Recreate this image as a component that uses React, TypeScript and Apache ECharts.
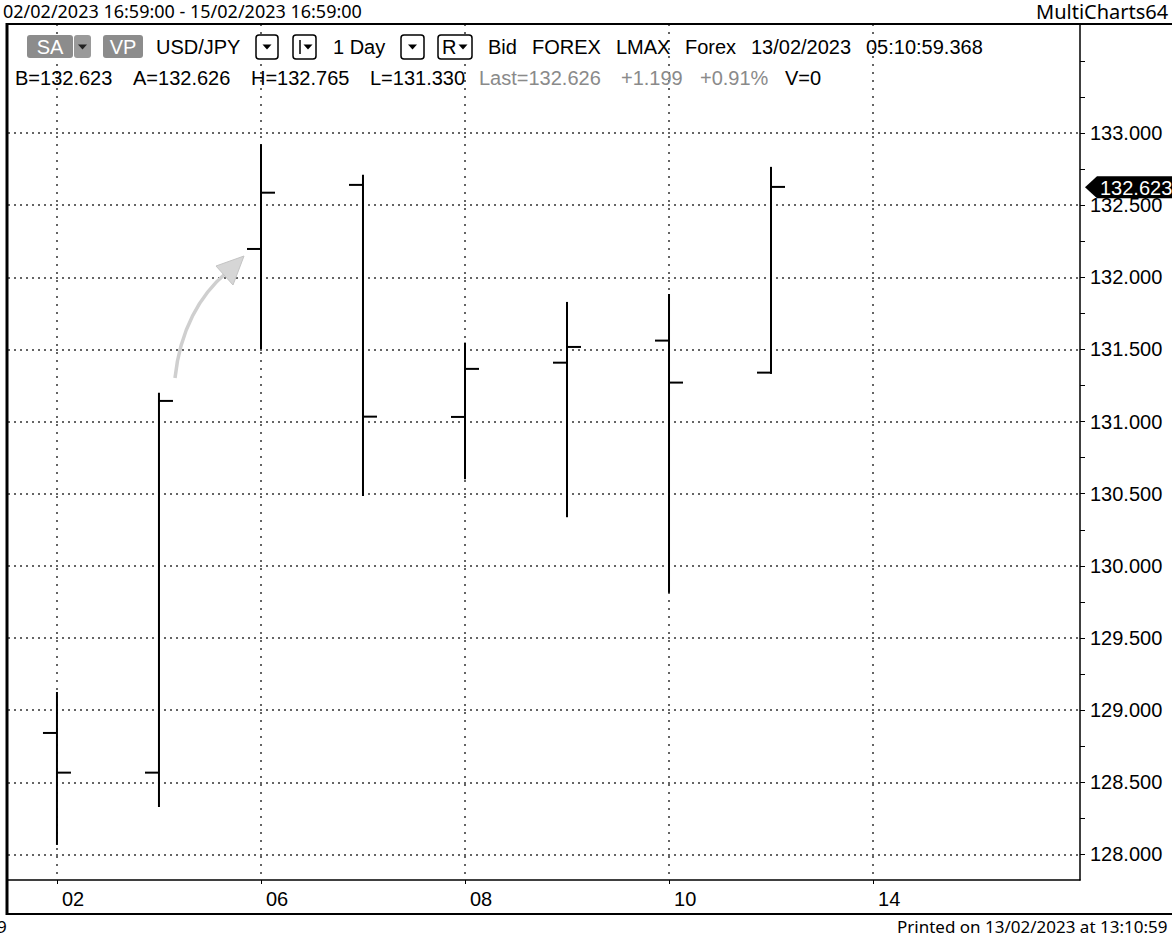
import React, { useEffect, useRef } from "react";
import * as echarts from "echarts";

// ---- data ----
const dayLabels = ["02", "03", "06", "07", "08", "09", "10", "13", "14", "15", "16"];
const opens = [128.842, 128.567, 132.196, 132.64, 131.032, 131.408, 131.561, 131.339];
const highs = [129.126, 131.2, 132.922, 132.711, 131.547, 131.829, 131.884, 132.765];
const lows = [128.066, 128.329, 131.501, 130.484, 130.6, 130.337, 129.814, 131.33];
const closes = [128.567, 131.143, 132.586, 131.034, 131.365, 131.517, 131.27, 132.626];
const xLabelIdx = [0, 2, 4, 6, 8];
const yLabelValues = [128, 128.5, 129, 129.5, 130, 130.5, 131, 131.5, 132, 132.5, 133];
const yTickValues = [
  128, 128.25, 128.5, 128.75, 129, 129.25, 129.5, 129.75, 130, 130.25, 130.5, 130.75,
  131, 131.25, 131.5, 131.75, 132, 132.25, 132.5, 132.75, 133, 133.25, 133.5, 133.75,
];
const lastBid = 132.623;

const ARIAL = '"Liberation Sans", Arial, sans-serif';
const TAHOMA = '"Noto Sans", sans-serif';

function txt(text: string, x: number, y: number, size = 20, fill = "#000", font = ARIAL, align = "left") {
  return {
    type: "text",
    x,
    y,
    z: 50,
    style: { text, fill, font: `${size}px ${font}`, verticalAlign: "middle", align },
    silent: true,
  };
}
function tri(cx: number, cy: number, fill = "#000", w = 9, h = 5) {
  return {
    type: "polygon",
    z: 51,
    shape: { points: [[cx - w / 2, cy - h / 2], [cx + w / 2, cy - h / 2], [cx, cy + h / 2]] },
    style: { fill },
    silent: true,
  };
}
function box(x: number, y: number, w: number, h: number, fill: string, stroke: string | null) {
  return {
    type: "rect",
    z: 49,
    shape: { x, y, width: w, height: h, r: 3 },
    style: stroke ? { fill, stroke, lineWidth: 1.5 } : { fill },
    silent: true,
  };
}
function hline(x1: number, x2: number, y: number, w: number) {
  return { type: "line", z: 60, shape: { x1, y1: y, x2, y2: y }, style: { stroke: "#000", lineWidth: w }, silent: true };
}
function vline(x: number, y1: number, y2: number, w: number) {
  return { type: "line", z: 60, shape: { x1: x, y1, x2: x, y2 }, style: { stroke: "#000", lineWidth: w }, silent: true };
}

export default function App() {
  const ref = useRef<HTMLDivElement>(null);
  useEffect(() => {
    if (!ref.current) return;
    const chart = echarts.init(ref.current, undefined, { renderer: "svg" });
    const data = opens.map((o, i) => [i, o, closes[i], lows[i], highs[i]]);
    const option: any = {
      animation: false,
      backgroundColor: "#fff",
      grid: { left: 8, top: 24, width: 1072, height: 856, containLabel: false },
      xAxis: {
        type: "value",
        min: -0.48,
        max: 10.029,
        axisLine: { show: true, lineStyle: { color: "#000", width: 1.5 } },
        axisTick: { show: true, length: 4, customValues: xLabelIdx, lineStyle: { color: "#000" } },
        axisLabel: {
          customValues: xLabelIdx,
          formatter: (v: number) => dayLabels[Math.round(v)] ?? "",
          align: "left",
          padding: [0, 0, 0, 5],
          margin: 9,
          color: "#000",
          fontFamily: ARIAL,
          fontSize: 20,
        },
        splitLine: { show: true, lineStyle: { color: "#333", width: 1.5, type: [2, 6] } },
      },
      yAxis: [
        {
          type: "value",
          position: "right",
          min: 127.823,
          max: 133.755,
          axisLine: { show: true, onZero: false, lineStyle: { color: "#000", width: 1.5 } },
          axisTick: { show: true, length: 5, customValues: yTickValues, lineStyle: { color: "#000", width: 1 } },
          axisLabel: {
            customValues: yLabelValues,
            formatter: (v: number) => v.toFixed(3),
            margin: 10,
            color: "#000",
            fontFamily: ARIAL,
            fontSize: 20,
          },
          splitLine: { show: false },
        },
        {
          type: "value",
          position: "right",
          min: 127.823,
          max: 133.755,
          axisLine: { show: false },
          axisTick: { show: false, customValues: yLabelValues },
          axisLabel: { show: false, customValues: yLabelValues },
          splitLine: { show: true, lineStyle: { color: "#333", width: 1.5, type: [2, 4] } },
        },
      ],
      series: [
        {
          type: "custom",
          yAxisIndex: 0,
          data,
          encode: { x: 0, y: [1, 2, 3, 4] },
          z: 10,
          renderItem: (_p: any, api: any) => {
            const x = api.value(0);
            const o = api.coord([x, api.value(1)]);
            const c = api.coord([x, api.value(2)]);
            const l = api.coord([x, api.value(3)]);
            const h = api.coord([x, api.value(4)]);
            const style = { stroke: "#000", lineWidth: 2 };
            return {
              type: "group",
              children: [
                { type: "line", shape: { x1: h[0], y1: h[1], x2: l[0], y2: l[1] }, style },
                { type: "line", shape: { x1: o[0] - 14, y1: o[1], x2: o[0], y2: o[1] }, style },
                { type: "line", shape: { x1: c[0], y1: c[1], x2: c[0] + 14, y2: c[1] }, style },
              ],
            };
          },
        },
      ],
    };
    chart.setOption(option);

    const py = chart.convertToPixel({ yAxisIndex: 0 }, lastBid) as number;
    const graphics: any[] = [
      // top caption / footer
      txt("02/02/2023 16:59:00 - 15/02/2023 16:59:00", 3, 11, 18, "#000", TAHOMA),
      txt("MultiCharts64", 1036, 11, 20, "#000", TAHOMA),
      txt("Printed on 13/02/2023 at 13:10:59", 897, 926, 17, "#000", TAHOMA),
      txt("9", -3, 926, 17, "#000", TAHOMA),
      // frame
      hline(6, 1172, 24, 2),
      vline(7, 23, 915, 3),
      hline(6, 1172, 914, 2),
      // header row 1
      box(27, 35, 46, 23, "#8c8c8c", null),
      txt("SA", 50, 47, 20, "#fff", ARIAL, "center"),
      box(74, 35, 17, 23, "#9a9a9a", null),
      tri(82.5, 47, "#222"),
      box(103, 35, 40, 23, "#8c8c8c", null),
      txt("VP", 123, 47, 20, "#fff", ARIAL, "center"),
      txt("USD/JPY", 156, 47),
      box(256, 35, 22, 24, "#fff", "#000"),
      tri(267, 47),
      box(293, 35, 23, 24, "#fff", "#000"),
      vline(300, 40, 54, 1.5),
      tri(308, 47),
      txt("1 Day", 333, 47),
      box(401, 35, 23, 24, "#fff", "#000"),
      tri(412.5, 47),
      box(438, 35, 34, 24, "#fff", "#000"),
      txt("R", 442, 47),
      tri(463, 47),
      txt("Bid", 488, 47),
      txt("FOREX", 532, 47),
      txt("LMAX", 616, 47),
      txt("Forex", 685, 47),
      txt("13/02/2023", 751, 47),
      txt("05:10:59.368", 866, 47),
      // header row 2
      txt("B=132.623", 15, 78),
      txt("A=132.626", 133, 78),
      txt("H=132.765", 251, 78),
      txt("L=131.330", 370, 78),
      txt("Last=132.626", 479, 78, 20, "#8a8a8a"),
      txt("+1.199", 621, 78, 20, "#8a8a8a"),
      txt("+0.91%", 700, 78, 20, "#8a8a8a"),
      txt("V=0", 785, 78),
      // annotation arrow
      {
        type: "bezierCurve",
        z: 5,
        shape: { x1: 175, y1: 378, cpx1: 180, cpy1: 330, cpx2: 200, cpy2: 295, x2: 226, y2: 273 },
        style: { stroke: "#cfcfcf", lineWidth: 3.5, fill: "none" },
        silent: true,
      },
      {
        type: "polygon",
        z: 5,
        shape: { points: [[244, 256], [216, 266], [233, 285]] },
        style: { fill: "#d6d6d6", stroke: "#c4c4c4", lineWidth: 1 },
        silent: true,
      },
      // last price tag
      {
        type: "polygon",
        z: 70,
        shape: { points: [[1085, py], [1097, py - 11], [1180, py - 11], [1180, py + 11], [1097, py + 11]] },
        style: { fill: "#000" },
        silent: true,
      },
      { ...txt(lastBid.toFixed(3), 1100, py + 1, 20, "#fff"), z: 71 },
    ];
    chart.setOption({ graphic: graphics });
    return () => chart.dispose();
  }, []);
  return (
    <div
      ref={ref}
      style={{ position: "fixed", left: 0, top: 0, width: 1172, height: 936, background: "#fff" }}
    />
  );
}
